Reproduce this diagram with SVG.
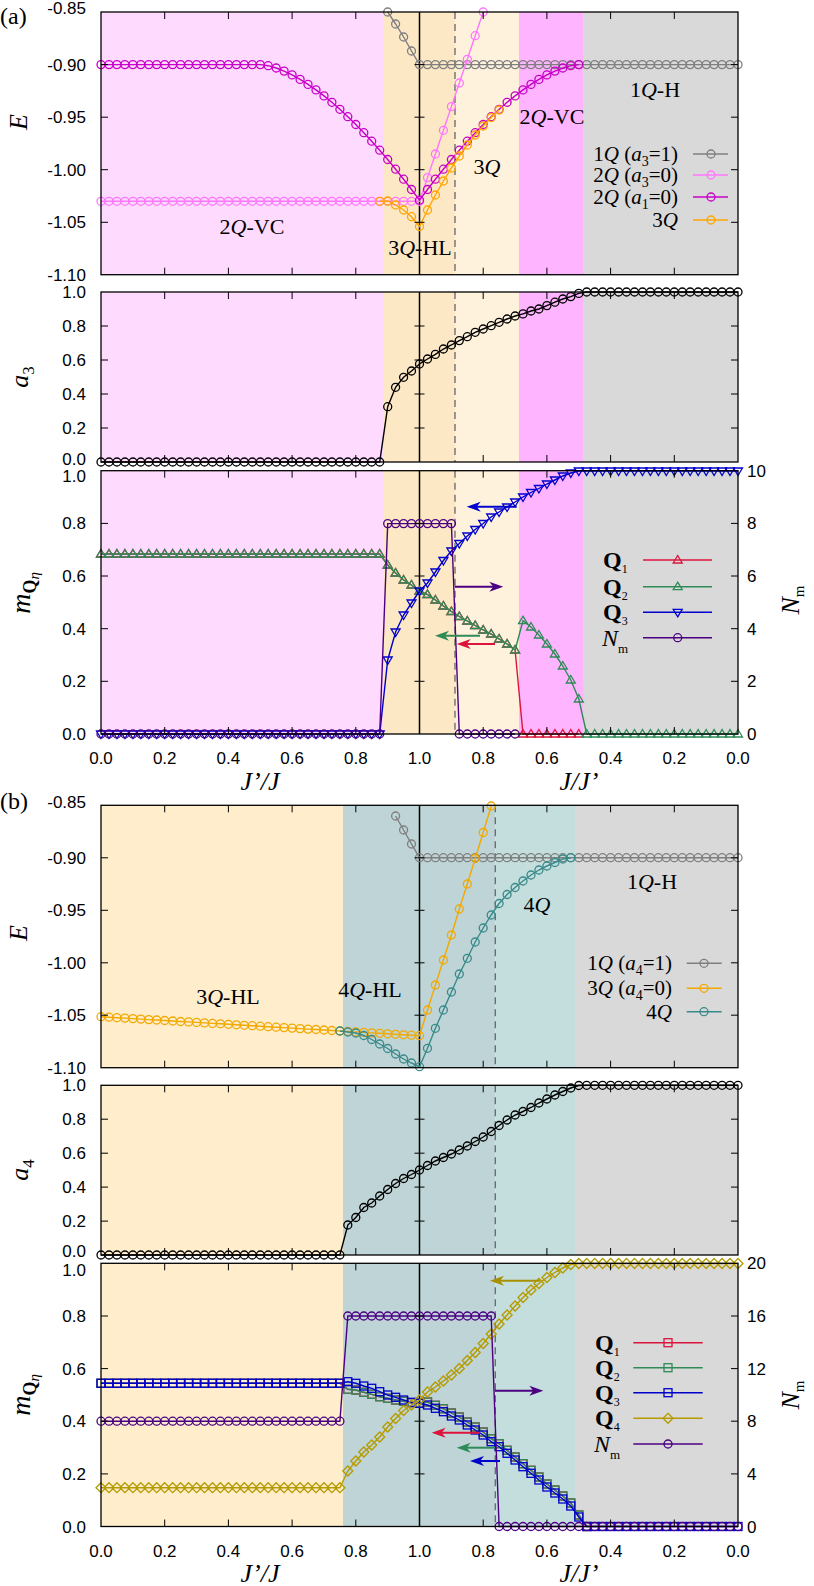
<svg xmlns="http://www.w3.org/2000/svg" width="814" height="1586" viewBox="0 0 814 1586">
<style>
.tk{font-family:"Liberation Sans",Arial,sans-serif;font-size:17px;fill:#000}
.sr{font-family:"Liberation Serif","Times New Roman",serif;fill:#000}
.lbl{font-size:22px;text-anchor:middle}
.lg{font-size:21px;text-anchor:end}
.it{font-style:italic}
.frame{fill:none;stroke:#000;stroke-width:1.3}
.ticks{fill:none;stroke:#000;stroke-width:1}
.vl{stroke:#000;stroke-width:1.5}
.dl{stroke:#666;stroke-width:1.3;stroke-dasharray:7,5}
polyline{fill:none;stroke-width:1.4}
.gray{stroke:#7f7f7f;marker:url(#mGray)}
.pink{stroke:#FF77FF;marker:url(#mPink)}
.mag{stroke:#C800C8;marker:url(#mMag)}
.ora{stroke:#FFA500;marker:url(#mOra)}
.blk{stroke:#000;marker:url(#mBlk)}
.redT{stroke:#DC143C;marker:url(#mRedT)}
.grnT{stroke:#2E8B57;marker:url(#mGrnT)}
.bluT{stroke:#0000CC;marker:url(#mBluT)}
.pur{stroke:#4B0082;marker:url(#mPur)}
.teal{stroke:#3A8A8A;marker:url(#mTeal)}
.orb{stroke:#F2A900;marker:url(#mOrb)}
.redS{stroke:#DC143C;marker:url(#mRedS)}
.grnS{stroke:#2E8B57;marker:url(#mGrnS)}
.bluS{stroke:#0000CC;marker:url(#mBluS)}
.olv{stroke:#B59B00;marker:url(#mOlv)}
.leg{marker-start:none;marker-end:none}
.arr{stroke-width:2}
</style>
<defs>
<marker id="mGray" markerUnits="userSpaceOnUse" markerWidth="12" markerHeight="12" refX="6" refY="6" overflow="visible"><circle cx="6" cy="6" r="4" fill="none" stroke="#7f7f7f" stroke-width="1.3"/></marker>
<marker id="mPink" markerUnits="userSpaceOnUse" markerWidth="12" markerHeight="12" refX="6" refY="6" overflow="visible"><circle cx="6" cy="6" r="4" fill="none" stroke="#FF77FF" stroke-width="1.3"/></marker>
<marker id="mMag" markerUnits="userSpaceOnUse" markerWidth="12" markerHeight="12" refX="6" refY="6" overflow="visible"><circle cx="6" cy="6" r="4" fill="none" stroke="#C800C8" stroke-width="1.3"/></marker>
<marker id="mOra" markerUnits="userSpaceOnUse" markerWidth="12" markerHeight="12" refX="6" refY="6" overflow="visible"><circle cx="6" cy="6" r="4" fill="none" stroke="#FFA500" stroke-width="1.3"/></marker>
<marker id="mBlk" markerUnits="userSpaceOnUse" markerWidth="12" markerHeight="12" refX="6" refY="6" overflow="visible"><circle cx="6" cy="6" r="4" fill="none" stroke="#000" stroke-width="1.3"/></marker>
<marker id="mPur" markerUnits="userSpaceOnUse" markerWidth="12" markerHeight="12" refX="6" refY="6" overflow="visible"><circle cx="6" cy="6" r="4" fill="none" stroke="#4B0082" stroke-width="1.3"/></marker>
<marker id="mTeal" markerUnits="userSpaceOnUse" markerWidth="12" markerHeight="12" refX="6" refY="6" overflow="visible"><circle cx="6" cy="6" r="4" fill="none" stroke="#3A8A8A" stroke-width="1.3"/></marker>
<marker id="mOrb" markerUnits="userSpaceOnUse" markerWidth="12" markerHeight="12" refX="6" refY="6" overflow="visible"><circle cx="6" cy="6" r="4" fill="none" stroke="#F2A900" stroke-width="1.3"/></marker>
<marker id="mRedT" markerUnits="userSpaceOnUse" markerWidth="12" markerHeight="12" refX="6" refY="6" overflow="visible"><path d="M6,1.5 L10.5,9 L1.5,9 Z" fill="none" stroke="#DC143C" stroke-width="1.3"/></marker>
<marker id="mGrnT" markerUnits="userSpaceOnUse" markerWidth="12" markerHeight="12" refX="6" refY="6" overflow="visible"><path d="M6,1.5 L10.5,9 L1.5,9 Z" fill="none" stroke="#2E8B57" stroke-width="1.3"/></marker>
<marker id="mBluT" markerUnits="userSpaceOnUse" markerWidth="12" markerHeight="12" refX="6" refY="6" overflow="visible"><path d="M6,10.5 L10.5,3 L1.5,3 Z" fill="none" stroke="#0000CC" stroke-width="1.3"/></marker>
<marker id="mRedS" markerUnits="userSpaceOnUse" markerWidth="12" markerHeight="12" refX="6" refY="6" overflow="visible"><rect x="2" y="2" width="8" height="8" fill="none" stroke="#DC143C" stroke-width="1.3"/></marker>
<marker id="mGrnS" markerUnits="userSpaceOnUse" markerWidth="12" markerHeight="12" refX="6" refY="6" overflow="visible"><rect x="2" y="2" width="8" height="8" fill="none" stroke="#2E8B57" stroke-width="1.3"/></marker>
<marker id="mBluS" markerUnits="userSpaceOnUse" markerWidth="12" markerHeight="12" refX="6" refY="6" overflow="visible"><rect x="2" y="2" width="8" height="8" fill="none" stroke="#0000CC" stroke-width="1.3"/></marker>
<marker id="mOlv" markerUnits="userSpaceOnUse" markerWidth="12" markerHeight="12" refX="6" refY="6" overflow="visible"><path d="M6,1 L11,6 L6,11 L1,6 Z" fill="none" stroke="#B59B00" stroke-width="1.3"/></marker>
</defs>
<rect width="814" height="1586" fill="#fff"/>

<g id="backgrounds">
<rect x="101" y="12" width="282" height="722" fill="#FFDAFF"/>
<rect x="383" y="12" width="72" height="722" fill="#FDE8C5"/>
<rect x="455" y="12" width="64" height="722" fill="#FFF2DD"/>
<rect x="519" y="12" width="64" height="722" fill="#FFB4FF"/>
<rect x="583" y="12" width="155" height="722" fill="#D9D9D9"/>
<rect x="101" y="274.7" width="637" height="17.3" fill="#fff"/>
<rect x="101" y="462" width="637" height="8.7" fill="#fff"/>
<rect x="101" y="805.3" width="242" height="721.2" fill="#FFEDCC"/>
<rect x="343" y="805.3" width="152.3" height="721.2" fill="#BED4D6"/>
<rect x="495.3" y="805.3" width="79.7" height="721.2" fill="#C3DEDD"/>
<rect x="575" y="805.3" width="163" height="721.2" fill="#D9D9D9"/>
<rect x="101" y="1067.7" width="637" height="17.6" fill="#fff"/>
<rect x="101" y="1255" width="637" height="8.3" fill="#fff"/>
</g>

<g id="guides">
<path class="dl" d="M455,12V274.7M455,292V462M455,470.7V734M495.3,805.3V1067.7M495.3,1085.3V1255M495.3,1263.3V1526.5"/>
<path class="vl" d="M419.5,12V274.7M419.5,292V462M419.5,470.7V734M419.5,805.3V1067.7M419.5,1085.3V1255M419.5,1263.3V1526.5"/>
</g>

<g id="curves">
<polyline class="gray" points="387.7,12 395.6,24 403.6,37 411.5,51 419.5,64.6 427.5,64.6 435.4,64.6 443.4,64.6 451.4,64.6 459.3,64.6 467.3,64.6 475.2,64.6 483.2,64.6 491.2,64.6 499.1,64.6 507.1,64.6 515.1,64.6 523,64.6 531,64.6 538.9,64.6 546.9,64.6 554.9,64.6 562.8,64.6 570.8,64.6 578.8,64.6 586.7,64.6 594.7,64.6 602.6,64.6 610.6,64.6 618.6,64.6 626.5,64.6 634.5,64.6 642.5,64.6 650.4,64.6 658.4,64.6 666.3,64.6 674.3,64.6 682.3,64.6 690.2,64.6 698.2,64.6 706.2,64.6 714.1,64.6 722.1,64.6 730,64.6 738,64.6"/>
<polyline class="pink" points="101,201.3 109,201.3 116.9,201.3 124.9,201.3 132.9,201.3 140.8,201.3 148.8,201.3 156.7,201.3 164.7,201.3 172.7,201.3 180.6,201.3 188.6,201.3 196.6,201.3 204.5,201.3 212.5,201.3 220.4,201.3 228.4,201.3 236.4,201.3 244.3,201.3 252.3,201.3 260.3,201.3 268.2,201.3 276.2,201.3 284.1,201.3 292.1,201.3 300.1,201.3 308,201.3 316,201.3 324,201.3 331.9,201.3 339.9,201.3 347.8,201.3 355.8,201.3 363.8,201.3 371.7,201.3 379.7,201.3 387.7,201.3 395.6,201.3 403.6,201.3 411.5,201.3 419.5,201.3 427.5,177.6 435.4,154 443.4,130.3 451.4,106.6 459.3,83 467.3,59.3 475.2,35.7 483.2,12"/>
<polyline class="mag" points="101,64.6 109,64.6 116.9,64.6 124.9,64.6 132.9,64.6 140.8,64.6 148.8,64.6 156.7,64.6 164.7,64.6 172.7,64.6 180.6,64.6 188.6,64.6 196.6,64.6 204.5,64.6 212.5,64.6 220.4,64.6 228.4,64.6 236.4,64.6 244.3,64.6 252.3,64.6 260.3,64.6 268.2,65.7 276.2,68 284.1,71.1 292.1,74.9 300.1,79.4 308,84.4 316,89.9 324,95.9 331.9,102.3 339.9,109.3 347.8,116.7 355.8,124.5 363.8,132.7 371.7,141.2 379.7,150.2 387.7,159.5 395.6,169.2 403.6,179.2 411.5,189.5 419.5,200.2 427.5,189.5 435.4,179.2 443.4,169.2 451.4,159.5 459.3,150.2 467.3,141.2 475.2,132.7 483.2,124.5 491.2,116.7 499.1,109.3 507.1,102.3 515.1,95.9 523,89.9 531,84.4 538.9,79.4 546.9,74.9 554.9,71.1 562.8,68 570.8,65.7 578.8,64.6"/>
<polyline class="ora" points="379.7,201.3 387.7,201 395.6,205 403.6,210 411.5,216.7 419.5,226.5 427.5,210 435.4,195 443.4,181 451.4,168 459.3,156 467.3,145 475.2,135 483.2,126 491.2,117.5 499.1,110"/>
<polyline class="blk" points="101,462 109,462 116.9,462 124.9,462 132.9,462 140.8,462 148.8,462 156.7,462 164.7,462 172.7,462 180.6,462 188.6,462 196.6,462 204.5,462 212.5,462 220.4,462 228.4,462 236.4,462 244.3,462 252.3,462 260.3,462 268.2,462 276.2,462 284.1,462 292.1,462 300.1,462 308,462 316,462 324,462 331.9,462 339.9,462 347.8,462 355.8,462 363.8,462 371.7,462 379.7,462 387.7,406.7 395.6,387.3 403.6,377.3 411.5,371 419.5,364 427.5,359 435.4,354.4 443.4,349 451.4,345 459.3,340.6 467.3,336.7 475.2,332.3 483.2,329 491.2,325.7 499.1,322.3 507.1,319 515.1,316 523,313.9 531,311 538.9,309 546.9,305.6 554.9,302.2 562.8,299 570.8,296.6 578.8,293.4 586.7,292 594.7,292 602.6,292 610.6,292 618.6,292 626.5,292 634.5,292 642.5,292 650.4,292 658.4,292 666.3,292 674.3,292 682.3,292 690.2,292 698.2,292 706.2,292 714.1,292 722.1,292 730,292 738,292"/>
<polyline class="redT" points="101,554 109,554 116.9,554 124.9,554 132.9,554 140.8,554 148.8,554 156.7,554 164.7,554 172.7,554 180.6,554 188.6,554 196.6,554 204.5,554 212.5,554 220.4,554 228.4,554 236.4,554 244.3,554 252.3,554 260.3,554 268.2,554 276.2,554 284.1,554 292.1,554 300.1,554 308,554 316,554 324,554 331.9,554 339.9,554 347.8,554 355.8,554 363.8,554 371.7,554 379.7,554 387.7,565 395.6,573 403.6,580 411.5,585 419.5,591 427.5,594.5 435.4,600 443.4,606 451.4,611.5 459.3,616.5 467.3,621 475.2,625.5 483.2,630 491.2,634 499.1,639 507.1,644 515.1,650 523,734 531,734 538.9,734 546.9,734 554.9,734 562.8,734 570.8,734 578.8,734"/>
<polyline class="grnT" points="101,554 109,554 116.9,554 124.9,554 132.9,554 140.8,554 148.8,554 156.7,554 164.7,554 172.7,554 180.6,554 188.6,554 196.6,554 204.5,554 212.5,554 220.4,554 228.4,554 236.4,554 244.3,554 252.3,554 260.3,554 268.2,554 276.2,554 284.1,554 292.1,554 300.1,554 308,554 316,554 324,554 331.9,554 339.9,554 347.8,554 355.8,554 363.8,554 371.7,554 379.7,554 387.7,565 395.6,573 403.6,580 411.5,585 419.5,591 427.5,594.5 435.4,600 443.4,606 451.4,611.5 459.3,616.5 467.3,621 475.2,625.5 483.2,630 491.2,634 499.1,639 507.1,644 515.1,650 523,620.7 531,627 538.9,635 546.9,644 554.9,654 562.8,666 570.8,680 578.8,699 586.7,734 594.7,734 602.6,734 610.6,734 618.6,734 626.5,734 634.5,734 642.5,734 650.4,734 658.4,734 666.3,734 674.3,734 682.3,734 690.2,734 698.2,734 706.2,734 714.1,734 722.1,734 730,734 738,734"/>
<polyline class="bluT" points="101,734 109,734 116.9,734 124.9,734 132.9,734 140.8,734 148.8,734 156.7,734 164.7,734 172.7,734 180.6,734 188.6,734 196.6,734 204.5,734 212.5,734 220.4,734 228.4,734 236.4,734 244.3,734 252.3,734 260.3,734 268.2,734 276.2,734 284.1,734 292.1,734 300.1,734 308,734 316,734 324,734 331.9,734 339.9,734 347.8,734 355.8,734 363.8,734 371.7,734 379.7,734 387.7,660 395.6,632 403.6,615 411.5,603 419.5,591 427.5,583 435.4,572 443.4,560.5 451.4,551 459.3,543.5 467.3,536 475.2,529.5 483.2,523.5 491.2,517 499.1,512 507.1,507 515.1,502 523,497 531,492.5 538.9,488.5 546.9,484 554.9,480 562.8,476 570.8,473 578.8,471 586.7,471 594.7,471 602.6,471 610.6,471 618.6,471 626.5,471 634.5,471 642.5,471 650.4,471 658.4,471 666.3,471 674.3,471 682.3,471 690.2,471 698.2,471 706.2,471 714.1,471 722.1,471 730,471 738,471"/>
<polyline class="pur" points="101,734 109,734 116.9,734 124.9,734 132.9,734 140.8,734 148.8,734 156.7,734 164.7,734 172.7,734 180.6,734 188.6,734 196.6,734 204.5,734 212.5,734 220.4,734 228.4,734 236.4,734 244.3,734 252.3,734 260.3,734 268.2,734 276.2,734 284.1,734 292.1,734 300.1,734 308,734 316,734 324,734 331.9,734 339.9,734 347.8,734 355.8,734 363.8,734 371.7,734 379.7,734 387.7,523.6 395.6,523.6 403.6,523.6 411.5,523.6 419.5,523.6 427.5,523.6 435.4,523.6 443.4,523.6 451.4,523.6 459.3,734 467.3,734 475.2,734 483.2,734 491.2,734 499.1,734 507.1,734 515.1,734"/>
<polyline class="gray" points="395.6,816 403.6,830 411.5,844 419.5,857.7 427.5,857.7 435.4,857.7 443.4,857.7 451.4,857.7 459.3,857.7 467.3,857.7 475.2,857.7 483.2,857.7 491.2,857.7 499.1,857.7 507.1,857.7 515.1,857.7 523,857.7 531,857.7 538.9,857.7 546.9,857.7 554.9,857.7 562.8,857.7 570.8,857.7 578.8,857.7 586.7,857.7 594.7,857.7 602.6,857.7 610.6,857.7 618.6,857.7 626.5,857.7 634.5,857.7 642.5,857.7 650.4,857.7 658.4,857.7 666.3,857.7 674.3,857.7 682.3,857.7 690.2,857.7 698.2,857.7 706.2,857.7 714.1,857.7 722.1,857.7 730,857.7 738,857.7"/>
<polyline class="orb" points="101,1016.7 109,1017.2 116.9,1017.7 124.9,1018.1 132.9,1018.6 140.8,1019.1 148.8,1019.6 156.7,1020 164.7,1020.5 172.7,1021 180.6,1021.5 188.6,1021.9 196.6,1022.4 204.5,1022.9 212.5,1023.4 220.4,1023.8 228.4,1024.3 236.4,1024.8 244.3,1025.3 252.3,1025.7 260.3,1026.2 268.2,1026.7 276.2,1027.2 284.1,1027.6 292.1,1028.1 300.1,1028.6 308,1029.1 316,1029.5 324,1030 331.9,1030.5 339.9,1031 347.8,1031.4 355.8,1031.9 363.8,1032.4 371.7,1032.9 379.7,1033.3 387.7,1033.8 395.6,1034.3 403.6,1034.8 411.5,1035.2 419.5,1035.7 427.5,1010 435.4,985 443.4,960 451.4,935 459.3,909 467.3,884 475.2,858.5 483.2,832.5 491.2,806"/>
<polyline class="teal" points="339.9,1031 347.8,1032 355.8,1033 363.8,1035.5 371.7,1039.5 379.7,1044 387.7,1048.5 395.6,1054 403.6,1059 411.5,1063 419.5,1066.7 427.5,1048.3 435.4,1028.3 443.4,1010 451.4,992 459.3,974 467.3,958.3 475.2,942 483.2,928 491.2,915 499.1,903.5 507.1,894.5 515.1,887.5 523,881 531,875 538.9,870 546.9,866 554.9,862.5 562.8,859 570.8,857.7"/>
<polyline class="blk" points="101,1255 109,1255 116.9,1255 124.9,1255 132.9,1255 140.8,1255 148.8,1255 156.7,1255 164.7,1255 172.7,1255 180.6,1255 188.6,1255 196.6,1255 204.5,1255 212.5,1255 220.4,1255 228.4,1255 236.4,1255 244.3,1255 252.3,1255 260.3,1255 268.2,1255 276.2,1255 284.1,1255 292.1,1255 300.1,1255 308,1255 316,1255 324,1255 331.9,1255 339.9,1255 347.8,1225 355.8,1217.5 363.8,1207.5 371.7,1203 379.7,1196 387.7,1189.5 395.6,1183.5 403.6,1178.5 411.5,1174.5 419.5,1170 427.5,1165.5 435.4,1161 443.4,1157.5 451.4,1154 459.3,1150 467.3,1146 475.2,1141.5 483.2,1137 491.2,1131.5 499.1,1125.5 507.1,1120 515.1,1115 523,1111.5 531,1107.5 538.9,1103 546.9,1099 554.9,1095 562.8,1091.5 570.8,1088 578.8,1085.5 586.7,1085.3 594.7,1085.3 602.6,1085.3 610.6,1085.3 618.6,1085.3 626.5,1085.3 634.5,1085.3 642.5,1085.3 650.4,1085.3 658.4,1085.3 666.3,1085.3 674.3,1085.3 682.3,1085.3 690.2,1085.3 698.2,1085.3 706.2,1085.3 714.1,1085.3 722.1,1085.3 730,1085.3 738,1085.3"/>
<polyline class="redS" points="101,1383.3 109,1383.3 116.9,1383.3 124.9,1383.3 132.9,1383.3 140.8,1383.3 148.8,1383.3 156.7,1383.3 164.7,1383.3 172.7,1383.3 180.6,1383.3 188.6,1383.3 196.6,1383.3 204.5,1383.3 212.5,1383.3 220.4,1383.3 228.4,1383.3 236.4,1383.3 244.3,1383.3 252.3,1383.3 260.3,1383.3 268.2,1383.3 276.2,1383.3 284.1,1383.3 292.1,1383.3 300.1,1383.3 308,1383.3 316,1383.3 324,1383.3 331.9,1383.3 339.9,1383.3 347.8,1389.3 355.8,1390 363.8,1392.3 371.7,1394.3 379.7,1396.7 387.7,1398.3 395.6,1400 403.6,1401.3 411.5,1402.7 419.5,1403.3 427.5,1402 435.4,1405.3 443.4,1408.7 451.4,1413 459.3,1417 467.3,1422 475.2,1427 483.2,1432 491.2,1438.7 499.1,1443.7 507.1,1450.3 515.1,1457 523,1463.7 531,1470.3 538.9,1477 546.9,1484 554.9,1490 562.8,1496 570.8,1503 578.8,1515 586.7,1526.5"/>
<polyline class="grnS" points="101,1383.3 109,1383.3 116.9,1383.3 124.9,1383.3 132.9,1383.3 140.8,1383.3 148.8,1383.3 156.7,1383.3 164.7,1383.3 172.7,1383.3 180.6,1383.3 188.6,1383.3 196.6,1383.3 204.5,1383.3 212.5,1383.3 220.4,1383.3 228.4,1383.3 236.4,1383.3 244.3,1383.3 252.3,1383.3 260.3,1383.3 268.2,1383.3 276.2,1383.3 284.1,1383.3 292.1,1383.3 300.1,1383.3 308,1383.3 316,1383.3 324,1383.3 331.9,1383.3 339.9,1383.3 347.8,1389.3 355.8,1390 363.8,1392.3 371.7,1394.3 379.7,1396.7 387.7,1398.3 395.6,1400 403.6,1401.3 411.5,1402.7 419.5,1403.3 427.5,1402 435.4,1405.3 443.4,1408.7 451.4,1413 459.3,1417 467.3,1422 475.2,1427 483.2,1432 491.2,1438.7 499.1,1443.7 507.1,1450.3 515.1,1457 523,1463.7 531,1470.3 538.9,1477 546.9,1484 554.9,1490 562.8,1496 570.8,1503 578.8,1515 586.7,1526.5"/>
<polyline class="bluS" points="101,1383.3 109,1383.3 116.9,1383.3 124.9,1383.3 132.9,1383.3 140.8,1383.3 148.8,1383.3 156.7,1383.3 164.7,1383.3 172.7,1383.3 180.6,1383.3 188.6,1383.3 196.6,1383.3 204.5,1383.3 212.5,1383.3 220.4,1383.3 228.4,1383.3 236.4,1383.3 244.3,1383.3 252.3,1383.3 260.3,1383.3 268.2,1383.3 276.2,1383.3 284.1,1383.3 292.1,1383.3 300.1,1383.3 308,1383.3 316,1383.3 324,1383.3 331.9,1383.3 339.9,1383.3 347.8,1381.7 355.8,1383.3 363.8,1386 371.7,1388.3 379.7,1391.7 387.7,1395 395.6,1397.3 403.6,1400 411.5,1402.3 419.5,1403.3 427.5,1405 435.4,1408.3 443.4,1411.7 451.4,1416 459.3,1420 467.3,1425 475.2,1430 483.2,1435 491.2,1441.7 499.1,1446.7 507.1,1453.3 515.1,1460 523,1466.7 531,1473.3 538.9,1480 546.9,1487 554.9,1493 562.8,1499 570.8,1506 578.8,1517 586.7,1526.5 594.7,1526.5 602.6,1526.5 610.6,1526.5 618.6,1526.5 626.5,1526.5 634.5,1526.5 642.5,1526.5 650.4,1526.5 658.4,1526.5 666.3,1526.5 674.3,1526.5 682.3,1526.5 690.2,1526.5 698.2,1526.5 706.2,1526.5 714.1,1526.5 722.1,1526.5 730,1526.5 738,1526.5"/>
<polyline class="olv" points="101,1487.7 109,1487.7 116.9,1487.7 124.9,1487.7 132.9,1487.7 140.8,1487.7 148.8,1487.7 156.7,1487.7 164.7,1487.7 172.7,1487.7 180.6,1487.7 188.6,1487.7 196.6,1487.7 204.5,1487.7 212.5,1487.7 220.4,1487.7 228.4,1487.7 236.4,1487.7 244.3,1487.7 252.3,1487.7 260.3,1487.7 268.2,1487.7 276.2,1487.7 284.1,1487.7 292.1,1487.7 300.1,1487.7 308,1487.7 316,1487.7 324,1487.7 331.9,1487.7 339.9,1487.7 347.8,1471 355.8,1461 363.8,1452 371.7,1445 379.7,1437 387.7,1427 395.6,1418.5 403.6,1410.5 411.5,1405 419.5,1400 427.5,1392 435.4,1387 443.4,1381 451.4,1375 459.3,1368.5 467.3,1360.5 475.2,1352.5 483.2,1343.5 491.2,1334 499.1,1324 507.1,1315 515.1,1306 523,1297.5 531,1290 538.9,1283.5 546.9,1277.5 554.9,1272.5 562.8,1268 570.8,1264.5 578.8,1263.5 586.7,1263.5 594.7,1263.5 602.6,1263.5 610.6,1263.5 618.6,1263.5 626.5,1263.5 634.5,1263.5 642.5,1263.5 650.4,1263.5 658.4,1263.5 666.3,1263.5 674.3,1263.5 682.3,1263.5 690.2,1263.5 698.2,1263.5 706.2,1263.5 714.1,1263.5 722.1,1263.5 730,1263.5 738,1263.5"/>
<polyline class="pur" points="101,1421.2 109,1421.2 116.9,1421.2 124.9,1421.2 132.9,1421.2 140.8,1421.2 148.8,1421.2 156.7,1421.2 164.7,1421.2 172.7,1421.2 180.6,1421.2 188.6,1421.2 196.6,1421.2 204.5,1421.2 212.5,1421.2 220.4,1421.2 228.4,1421.2 236.4,1421.2 244.3,1421.2 252.3,1421.2 260.3,1421.2 268.2,1421.2 276.2,1421.2 284.1,1421.2 292.1,1421.2 300.1,1421.2 308,1421.2 316,1421.2 324,1421.2 331.9,1421.2 339.9,1421.2 347.8,1316 355.8,1316 363.8,1316 371.7,1316 379.7,1316 387.7,1316 395.6,1316 403.6,1316 411.5,1316 419.5,1316 427.5,1316 435.4,1316 443.4,1316 451.4,1316 459.3,1316 467.3,1316 475.2,1316 483.2,1316 491.2,1316 499.1,1526.5 507.1,1526.5 515.1,1526.5 523,1526.5 531,1526.5 538.9,1526.5 546.9,1526.5 554.9,1526.5 562.8,1526.5 570.8,1526.5 578.8,1526.5 586.7,1526.5 594.7,1526.5 602.6,1526.5 610.6,1526.5 618.6,1526.5 626.5,1526.5 634.5,1526.5 642.5,1526.5 650.4,1526.5 658.4,1526.5 666.3,1526.5 674.3,1526.5 682.3,1526.5 690.2,1526.5 698.2,1526.5 706.2,1526.5 714.1,1526.5 722.1,1526.5 730,1526.5 738,1526.5"/>
</g>

<g id="arrows">
<line class="arr" x1="516.7" y1="506.7" x2="476" y2="506.7" stroke="#0000CC"/><polygon points="466.7,506.7 480.7,501.7 476.7,506.7 480.7,511.7" fill="#0000CC"/>
<line class="arr" x1="480" y1="635.7" x2="445" y2="635.7" stroke="#2E8B57"/><polygon points="435,635.7 449,630.7 445,635.7 449,640.7" fill="#2E8B57"/>
<line class="arr" x1="495" y1="644" x2="466" y2="644" stroke="#DC143C"/><polygon points="456.7,644 470.7,639 466.7,644 470.7,649" fill="#DC143C"/>
<line class="arr" x1="455" y1="586.7" x2="494" y2="586.7" stroke="#4B0082"/><polygon points="503.3,586.7 489.3,581.7 493.3,586.7 489.3,591.7" fill="#4B0082"/>
<line class="arr" x1="540" y1="1280.7" x2="500" y2="1280.7" stroke="#A89000"/><polygon points="490,1280.7 504,1275.7 500,1280.7 504,1285.7" fill="#A89000"/>
<line class="arr" x1="495" y1="1390.7" x2="534" y2="1390.7" stroke="#4B0082"/><polygon points="543.3,1390.7 529.3,1385.7 533.3,1390.7 529.3,1395.7" fill="#4B0082"/>
<line class="arr" x1="480" y1="1432.7" x2="441" y2="1432.7" stroke="#DC143C"/><polygon points="431.7,1432.7 445.7,1427.7 441.7,1432.7 445.7,1437.7" fill="#DC143C"/>
<line class="arr" x1="495" y1="1447.7" x2="466" y2="1447.7" stroke="#2E8B57"/><polygon points="456.7,1447.7 470.7,1442.7 466.7,1447.7 470.7,1452.7" fill="#2E8B57"/>
<line class="arr" x1="500" y1="1461" x2="479" y2="1461" stroke="#0000CC"/><polygon points="470,1461 484,1456 480,1461 484,1466" fill="#0000CC"/>
</g>

<g id="frames">
<rect class="frame" x="101" y="12" width="637" height="262.7"/>
<rect class="frame" x="101" y="292" width="637" height="170"/>
<rect class="frame" x="101" y="470.7" width="637" height="263.3"/>
<rect class="frame" x="101" y="805.3" width="637" height="262.4"/>
<rect class="frame" x="101" y="1085.3" width="637" height="169.7"/>
<rect class="frame" x="101" y="1263.3" width="637" height="263.2"/>
<path class="ticks" d="M101,64.6h7M101,117.2h7M101,169.7h7M101,222.3h7M738,64.6h-7M738,117.2h-7M738,169.7h-7M738,222.3h-7M414.5,64.6h10M414.5,117.2h10M414.5,169.7h10M414.5,222.3h10
M164.7,274.7v-7M228.4,274.7v-7M292.1,274.7v-7M355.8,274.7v-7M483.2,274.7v-7M546.9,274.7v-7M610.6,274.7v-7M674.3,274.7v-7M164.7,12v7M228.4,12v7M292.1,12v7M355.8,12v7M483.2,12v7M546.9,12v7M610.6,12v7M674.3,12v7
M101,326h7M101,360h7M101,394h7M101,428h7M738,326h-7M738,360h-7M738,394h-7M738,428h-7M414.5,326h10M414.5,360h10M414.5,394h10M414.5,428h10
M164.7,462v-7M228.4,462v-7M292.1,462v-7M355.8,462v-7M483.2,462v-7M546.9,462v-7M610.6,462v-7M674.3,462v-7M164.7,292v7M228.4,292v7M292.1,292v7M355.8,292v7M483.2,292v7M546.9,292v7M610.6,292v7M674.3,292v7
M101,523.4h7M101,576h7M101,628.7h7M101,681.3h7M738,523.4h-7M738,576h-7M738,628.7h-7M738,681.3h-7M414.5,523.4h10M414.5,576h10M414.5,628.7h10M414.5,681.3h10
M164.7,734v-7M228.4,734v-7M292.1,734v-7M355.8,734v-7M483.2,734v-7M546.9,734v-7M610.6,734v-7M674.3,734v-7M164.7,470.7v7M228.4,470.7v7M292.1,470.7v7M355.8,470.7v7M483.2,470.7v7M546.9,470.7v7M610.6,470.7v7M674.3,470.7v7
M101,857.8h7M101,910.3h7M101,962.8h7M101,1015.2h7M738,857.8h-7M738,910.3h-7M738,962.8h-7M738,1015.2h-7M414.5,857.8h10M414.5,910.3h10M414.5,962.8h10M414.5,1015.2h10
M164.7,1067.7v-7M228.4,1067.7v-7M292.1,1067.7v-7M355.8,1067.7v-7M483.2,1067.7v-7M546.9,1067.7v-7M610.6,1067.7v-7M674.3,1067.7v-7M164.7,805.3v7M228.4,805.3v7M292.1,805.3v7M355.8,805.3v7M483.2,805.3v7M546.9,805.3v7M610.6,805.3v7M674.3,805.3v7
M101,1119.2h7M101,1153.2h7M101,1187.1h7M101,1221.1h7M738,1119.2h-7M738,1153.2h-7M738,1187.1h-7M738,1221.1h-7M414.5,1119.2h10M414.5,1153.2h10M414.5,1187.1h10M414.5,1221.1h10
M164.7,1255v-7M228.4,1255v-7M292.1,1255v-7M355.8,1255v-7M483.2,1255v-7M546.9,1255v-7M610.6,1255v-7M674.3,1255v-7M164.7,1085.3v7M228.4,1085.3v7M292.1,1085.3v7M355.8,1085.3v7M483.2,1085.3v7M546.9,1085.3v7M610.6,1085.3v7M674.3,1085.3v7
M101,1316h7M101,1368.6h7M101,1421.2h7M101,1473.9h7M738,1316h-7M738,1368.6h-7M738,1421.2h-7M738,1473.9h-7M414.5,1316h10M414.5,1368.6h10M414.5,1421.2h10M414.5,1473.9h10
M164.7,1526.5v-7M228.4,1526.5v-7M292.1,1526.5v-7M355.8,1526.5v-7M483.2,1526.5v-7M546.9,1526.5v-7M610.6,1526.5v-7M674.3,1526.5v-7M164.7,1263.3v7M228.4,1263.3v7M292.1,1263.3v7M355.8,1263.3v7M483.2,1263.3v7M546.9,1263.3v7M610.6,1263.3v7M674.3,1263.3v7"/>
</g>

<g id="ticklabels" class="tk">
<g text-anchor="end">
<text x="86" y="14">-0.85</text><text x="86" y="70.6">-0.90</text><text x="86" y="123.2">-0.95</text><text x="86" y="175.7">-1.00</text><text x="86" y="228.3">-1.05</text><text x="86" y="280.7">-1.10</text>
<text x="86" y="298">1.0</text><text x="86" y="332">0.8</text><text x="86" y="366">0.6</text><text x="86" y="400">0.4</text><text x="86" y="434">0.2</text><text x="86" y="464.5">0.0</text>
<text x="86" y="482">1.0</text><text x="86" y="529.4">0.8</text><text x="86" y="582">0.6</text><text x="86" y="634.7">0.4</text><text x="86" y="687.3">0.2</text><text x="86" y="740">0.0</text>
<text x="86" y="808">-0.85</text><text x="86" y="863.8">-0.90</text><text x="86" y="916.3">-0.95</text><text x="86" y="968.8">-1.00</text><text x="86" y="1021.2">-1.05</text><text x="86" y="1073.7">-1.10</text>
<text x="86" y="1091.3">1.0</text><text x="86" y="1125.2">0.8</text><text x="86" y="1159.2">0.6</text><text x="86" y="1193.1">0.4</text><text x="86" y="1227.1">0.2</text><text x="86" y="1257">0.0</text>
<text x="86" y="1276">1.0</text><text x="86" y="1322">0.8</text><text x="86" y="1374.6">0.6</text><text x="86" y="1427.2">0.4</text><text x="86" y="1479.9">0.2</text><text x="86" y="1532.5">0.0</text>
</g>
<g text-anchor="start">
<text x="747" y="476.7">10</text><text x="747" y="529.4">8</text><text x="747" y="582">6</text><text x="747" y="634.7">4</text><text x="747" y="687.3">2</text><text x="747" y="740">0</text>
<text x="747" y="1269.3">20</text><text x="747" y="1322">16</text><text x="747" y="1374.6">12</text><text x="747" y="1427.2">8</text><text x="747" y="1479.9">4</text><text x="747" y="1532.5">0</text>
</g>
<g text-anchor="middle">
<text x="101" y="764">0.0</text><text x="164.7" y="764">0.2</text><text x="228.4" y="764">0.4</text><text x="292.1" y="764">0.6</text><text x="355.8" y="764">0.8</text><text x="419.5" y="764">1.0</text><text x="483.2" y="764">0.8</text><text x="546.9" y="764">0.6</text><text x="610.6" y="764">0.4</text><text x="674.3" y="764">0.2</text><text x="738" y="764">0.0</text>
<text x="101" y="1556.5">0.0</text><text x="164.7" y="1556.5">0.2</text><text x="228.4" y="1556.5">0.4</text><text x="292.1" y="1556.5">0.6</text><text x="355.8" y="1556.5">0.8</text><text x="419.5" y="1556.5">1.0</text><text x="483.2" y="1556.5">0.8</text><text x="546.9" y="1556.5">0.6</text><text x="610.6" y="1556.5">0.4</text><text x="674.3" y="1556.5">0.2</text><text x="738" y="1556.5">0.0</text>
</g>
</g>

<g id="axistitles" class="sr" font-size="26">
<text x="0" y="24" font-size="24">(a)</text>
<text x="0" y="809" font-size="24">(b)</text>
<text class="it" transform="translate(27,122) rotate(-90)" text-anchor="middle">E</text>
<text transform="translate(28,377) rotate(-90)" text-anchor="middle"><tspan class="it">a</tspan><tspan font-size="17" dy="6">3</tspan></text>
<text transform="translate(30,593) rotate(-90)" text-anchor="middle"><tspan class="it" font-size="28">m</tspan><tspan font-size="18" font-weight="bold" dy="6">Q</tspan><tspan class="it" font-size="15" dy="3">η</tspan></text>
<text transform="translate(799,600) rotate(-90)" text-anchor="middle"><tspan class="it">N</tspan><tspan font-size="15" dy="5">m</tspan></text>
<text class="it" transform="translate(27,933) rotate(-90)" text-anchor="middle">E</text>
<text transform="translate(28,1170) rotate(-90)" text-anchor="middle"><tspan class="it">a</tspan><tspan font-size="17" dy="6">4</tspan></text>
<text transform="translate(30,1395) rotate(-90)" text-anchor="middle"><tspan class="it" font-size="28">m</tspan><tspan font-size="18" font-weight="bold" dy="6">Q</tspan><tspan class="it" font-size="15" dy="3">η</tspan></text>
<text transform="translate(799,1395) rotate(-90)" text-anchor="middle"><tspan class="it">N</tspan><tspan font-size="15" dy="5">m</tspan></text>
<text class="it" x="260" y="790" text-anchor="middle">J’/J</text>
<text class="it" x="579" y="790" text-anchor="middle">J/J’</text>
<text class="it" x="260" y="1582" text-anchor="middle">J’/J</text>
<text class="it" x="579" y="1582" text-anchor="middle">J/J’</text>
</g>

<g id="phaselabels" class="sr lbl">
<text x="252" y="234">2<tspan class="it">Q</tspan>-VC</text>
<text x="420" y="255">3<tspan class="it">Q</tspan>-HL</text>
<text x="487" y="174">3<tspan class="it">Q</tspan></text>
<text x="552" y="124">2<tspan class="it">Q</tspan>-VC</text>
<text x="655" y="97">1<tspan class="it">Q</tspan>-H</text>
<text x="228" y="1004">3<tspan class="it">Q</tspan>-HL</text>
<text x="370" y="997">4<tspan class="it">Q</tspan>-HL</text>
<text x="537" y="912">4<tspan class="it">Q</tspan></text>
<text x="652" y="889">1<tspan class="it">Q</tspan>-H</text>
</g>

<g id="legend-a-E">
<g class="sr lg">
<text x="678" y="161">1<tspan class="it">Q</tspan> (<tspan class="it">a</tspan><tspan font-size="14" dy="5">3</tspan><tspan dy="-5">=1)</tspan></text>
<text x="678" y="182">2<tspan class="it">Q</tspan> (<tspan class="it">a</tspan><tspan font-size="14" dy="5">3</tspan><tspan dy="-5">=0)</tspan></text>
<text x="678" y="204">2<tspan class="it">Q</tspan> (<tspan class="it">a</tspan><tspan font-size="14" dy="5">1</tspan><tspan dy="-5">=0)</tspan></text>
<text x="678" y="227">3<tspan class="it">Q</tspan></text>
</g>
<polyline class="gray leg" points="693,154 711,154 728,154"/>
<polyline class="pink leg" points="693,175 711,175 728,175"/>
<polyline class="mag leg" points="693,197 711,197 728,197"/>
<polyline class="ora leg" points="693,220 711,220 728,220"/>
</g>

<g id="legend-a-m">
<g class="sr" font-size="24">
<text x="603" y="568"><tspan font-weight="bold">Q</tspan><tspan font-size="12" dy="5">1</tspan></text>
<text x="603" y="594.7"><tspan font-weight="bold">Q</tspan><tspan font-size="12" dy="5">2</tspan></text>
<text x="603" y="620.3"><tspan font-weight="bold">Q</tspan><tspan font-size="12" dy="5">3</tspan></text>
<text x="602" y="645.7"><tspan class="it">N</tspan><tspan font-size="13" dy="7">m</tspan></text>
</g>
<polyline class="redT leg" points="643,560 677.7,560 712,560"/>
<polyline class="grnT leg" points="643,586.7 677.7,586.7 712,586.7"/>
<polyline class="bluT leg" points="643,612.3 677.7,612.3 712,612.3"/>
<polyline class="pur leg" points="643,637.7 677.7,637.7 712,637.7"/>
</g>

<g id="legend-b-E">
<g class="sr lg">
<text x="672" y="970.3">1<tspan class="it">Q</tspan> (<tspan class="it">a</tspan><tspan font-size="14" dy="5">4</tspan><tspan dy="-5">=1)</tspan></text>
<text x="672" y="995.3">3<tspan class="it">Q</tspan> (<tspan class="it">a</tspan><tspan font-size="14" dy="5">4</tspan><tspan dy="-5">=0)</tspan></text>
<text x="672" y="1018.7">4<tspan class="it">Q</tspan></text>
</g>
<polyline class="gray leg" points="686.7,963.3 704,963.3 721.7,963.3"/>
<polyline class="orb leg" points="686.7,988.3 704,988.3 721.7,988.3"/>
<polyline class="teal leg" points="686.7,1011.7 704,1011.7 721.7,1011.7"/>
</g>

<g id="legend-b-m">
<g class="sr" font-size="24">
<text x="595" y="1350.7"><tspan font-weight="bold">Q</tspan><tspan font-size="12" dy="5">1</tspan></text>
<text x="595" y="1375.7"><tspan font-weight="bold">Q</tspan><tspan font-size="12" dy="5">2</tspan></text>
<text x="595" y="1400.7"><tspan font-weight="bold">Q</tspan><tspan font-size="12" dy="5">3</tspan></text>
<text x="595" y="1426.3"><tspan font-weight="bold">Q</tspan><tspan font-size="12" dy="5">4</tspan></text>
<text x="594" y="1452"><tspan class="it">N</tspan><tspan font-size="13" dy="7">m</tspan></text>
</g>
<polyline class="redS leg" points="633.3,1342.7 668,1342.7 702.7,1342.7"/>
<polyline class="grnS leg" points="633.3,1367.7 668,1367.7 702.7,1367.7"/>
<polyline class="bluS leg" points="633.3,1392.7 668,1392.7 702.7,1392.7"/>
<polyline class="olv leg" points="633.3,1418.3 668,1418.3 702.7,1418.3"/>
<polyline class="pur leg" points="633.3,1444 668,1444 702.7,1444"/>
</g>
</svg>
